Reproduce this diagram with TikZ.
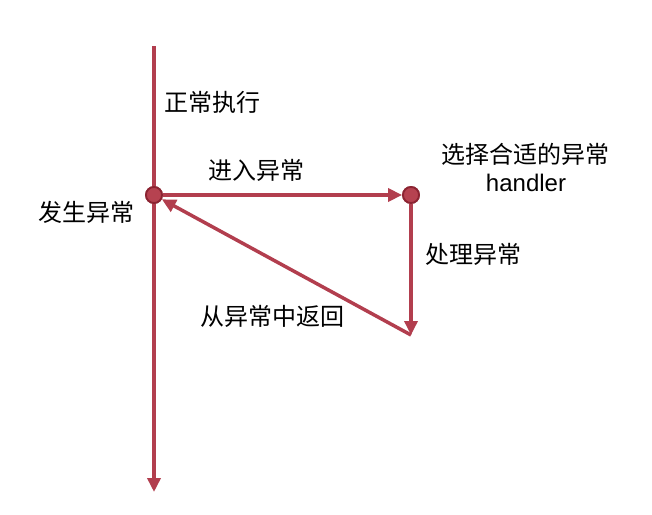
\documentclass[tikz,border=0pt]{standalone}
\usepackage{fontspec}
\setmainfont{Noto Sans CJK SC}
\newfontfamily\latinsans{Liberation Sans}
\usetikzlibrary{arrows.meta}
\definecolor{ln}{RGB}{178,62,78}
\definecolor{dotfill}{RGB}{182,66,80}
\definecolor{dotdraw}{RGB}{140,36,50}
\tikzset{
  conn/.style={draw=ln, line width=3.5pt, -{Triangle[length=14pt,width=13pt]}},
  dot/.style={circle, fill=dotfill, draw=dotdraw, line width=1.8pt, minimum size=16pt, inner sep=0pt},
  lbl/.style={font=\fontsize{24}{28}\selectfont, inner sep=0pt}
}
\begin{document}
\begin{tikzpicture}[x=1pt,y=-1pt]
\useasboundingbox (0,0) rectangle (652,514);
\coordinate (top) at (154,46);
\coordinate (bot) at (154,492);
\coordinate (low) at (411,335);
\node[dot] (a) at (154,195) {};
\node[dot] (b) at (411,195) {};
\draw[conn] (top) -- (bot);
\draw[conn] (a) -- (b);
\draw[conn] (b) -- (low);
\draw[conn] (low) -- (a);
\node[dot] at (154,195) {};
\node[dot] at (411,195) {};
\node[lbl, anchor=west] (t1) at (164,102) {正常执行};
\node[lbl] (t2) at (256,170) {进入异常};
\node[lbl] (t3) at (525,154) {选择合适的异常};
\node[lbl, font=\latinsans\fontsize{24}{28}\selectfont] (t4) at (526,183) {handler};
\node[lbl] (t5) at (86,212) {发生异常};
\node[lbl] (t6) at (473,254) {处理异常};
\node[lbl] (t7) at (272,316) {从异常中返回};
\end{tikzpicture}
\end{document}
